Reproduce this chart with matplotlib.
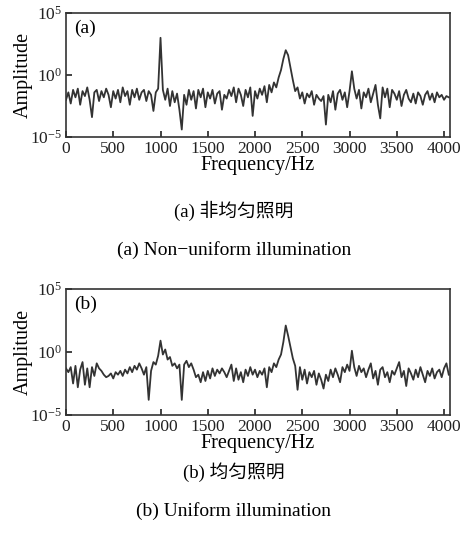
import numpy as np
import matplotlib
matplotlib.use('Agg')
import matplotlib.pyplot as plt

plt.rcParams['font.family'] = ['Liberation Serif', 'Noto Sans CJK SC']
plt.rcParams['mathtext.fontset'] = 'custom'
plt.rcParams['mathtext.rm'] = 'Liberation Serif'

# frequency bins (Hz)
freq = np.arange(0, 4051, 25)

# log10 amplitude, non-uniform illumination (a)
log_amp_a = [
    -2.0, -1.4, -2.3, -1.2, -1.8, -1.1, -2.4, -1.3, -1.7, -1.0,
    -2.0, -3.4, -1.4, -1.2, -2.1, -1.3, -1.8, -1.1, -1.6, -2.6,
    -1.3, -1.9, -1.2, -2.2, -1.0, -1.7, -1.3, -2.4, -1.2, -1.8,
    -1.1, -2.0, -1.4, -1.2, -2.1, -1.3, -1.6, -2.9, -1.4, -1.1,
    3.0, -1.2, -2.0, -1.1, -2.5, -1.3, -2.2, -1.5, -2.8, -4.4,
    -1.6, -2.4, -1.2, -2.0, -1.3, -2.7, -1.2, -1.8, -1.1, -2.6,
    -1.4, -1.9, -1.2, -2.3, -1.5, -1.3, -2.8, -1.6, -1.9, -1.2,
    -1.7, -1.0, -2.2, -1.1, -1.6, -2.5, -1.2, -1.8, -1.0, -3.3,
    -1.3, -1.9, -1.1, -1.6, -0.9, -2.2, -0.8, -1.4, -0.6, -1.0,
    -0.2, 0.4, 1.3, 2.0, 1.6, 0.6, -0.4, -1.3, -1.0, -1.9,
    -1.4, -2.3, -1.5, -1.8, -1.3, -2.4, -1.6, -1.9, -2.1, -1.7,
    -4.0, -1.6, -2.2, -1.3, -2.8, -1.5, -1.2, -2.0, -1.4, -2.6,
    -1.3, 0.3, -1.1, -1.9, -1.2, -2.7, -1.4, -1.8, -1.1, -2.2,
    -1.5, -0.8, -2.4, -3.5, -1.0, -1.8, -1.1, -2.6, -1.2, -1.5,
    -2.0, -1.3, -2.5, -1.6, -1.2, -1.9, -2.2, -1.5, -2.3, -1.4,
    -1.7, -2.4, -1.6, -1.3, -2.0, -1.5, -2.2, -1.4, -1.8, -1.6,
    -2.0, -1.7, -1.8,
]

# log10 amplitude, uniform illumination (b)
log_amp_b = [
    -1.3, -1.6, -1.2, -2.5, -1.1, -2.8, -1.4, -0.8, -2.6, -1.3,
    -2.8, -1.2, -1.9, -0.9, -1.3, -1.5, -1.8, -2.0, -1.9, -1.7,
    -2.1, -1.6, -1.8, -1.5, -1.9, -1.4, -1.7, -1.2, -1.6, -1.1,
    -1.4, -0.9, -1.3, -1.8, -1.2, -3.8, -1.5, -0.8, -1.0, -0.3,
    0.9, -0.2, 0.2, -0.6, -0.4, -1.1, -0.9, -1.3, -1.0, -3.8,
    -1.0, -0.7, -1.2, -0.9, -1.4, -2.0, -1.8, -2.4, -1.6, -2.3,
    -1.5, -2.1, -1.3, -1.9, -1.4, -1.7, -1.3, -1.6, -2.0, -1.5,
    -1.0, -2.3, -1.3, -2.2, -1.6, -2.4, -1.4, -1.9, -1.2, -1.8,
    -1.4, -2.0, -1.5, -1.8, -1.3, -2.8, -1.2, -1.6, -0.9, -1.2,
    -0.6, -0.2, 0.8, 2.1, 1.3, 0.4, -0.5, -1.1, -3.0, -1.2,
    -2.2, -1.4, -2.5, -1.6, -2.0, -1.5, -2.6, -1.7, -2.2, -2.9,
    -1.8, -2.3, -1.4, -2.0, -1.3, -1.8, -2.4, -1.2, -1.6, -1.0,
    -1.5, 0.1, -1.2, -1.9, -1.1, -1.6, -1.3, -2.0, -1.4, -0.9,
    -2.1, -1.5, -2.6, -1.4, -1.2, -2.0, -1.6, -2.4, -1.5, -1.8,
    -1.3, -0.8, -2.0, -1.5, -2.7, -1.3, -1.7, -2.2, -1.4, -2.0,
    -1.2, -1.8, -2.4, -1.5, -1.9, -1.3, -2.1, -1.6, -1.4, -2.0,
    -1.3, -0.9, -1.8,
]

panel_tags = ['(a)', '(b)']
captions_cn = ['(a) 非均匀照明', '(b) 均匀照明']
captions_en = ['(a) Non\u2212uniform illumination', '(b) Uniform illumination']

fig = plt.figure(figsize=(4.68, 5.37), dpi=100)

W, H = 468.0, 537.0
boxes = [(66, 13, 450, 137), (66, 289, 450, 415)]  # axes boxes in pixels
series = [log_amp_a, log_amp_b]
line_col = '#333333'

for k in range(2):
    x0, y0, x1, y1 = boxes[k]
    ax = fig.add_axes([x0 / W, 1 - y1 / H, (x1 - x0) / W, (y1 - y0) / H])
    ax.plot(freq, 10 ** np.array(series[k]), color=line_col, lw=1.3)
    ax.set_yscale('log')
    ax.set_ylim(1e-5, 1e5)
    ax.set_xlim(0, 4063)
    ax.set_yticks([1e-5, 1e0, 1e5])
    ax.minorticks_off()
    ax.set_xticks(np.arange(0, 4001, 500))
    ax.tick_params(direction='in', length=4, width=1.2, labelsize=12.5,
                   top=False, right=False, colors='#222222', pad=3)
    for s in ax.spines.values():
        s.set_linewidth(1.2)
        s.set_color('#333333')
    ax.set_xlabel('Frequency/Hz', fontsize=14.5, labelpad=-1)
    ax.set_ylabel('Amplitude', fontsize=14.5, labelpad=-2)
    ax.text(0.02, 0.95, panel_tags[k], transform=ax.transAxes,
            fontsize=14, va='top', ha='left')

    # captions under each panel
    cy = [211, 472][k]
    fig.text(0.5, 1 - cy / H, captions_cn[k], fontsize=13.5,
             ha='center', va='center')
    fig.text(0.5, 1 - (cy + 39) / H, captions_en[k], fontsize=14,
             ha='center', va='center')

fig.savefig('out.png', dpi=100)
